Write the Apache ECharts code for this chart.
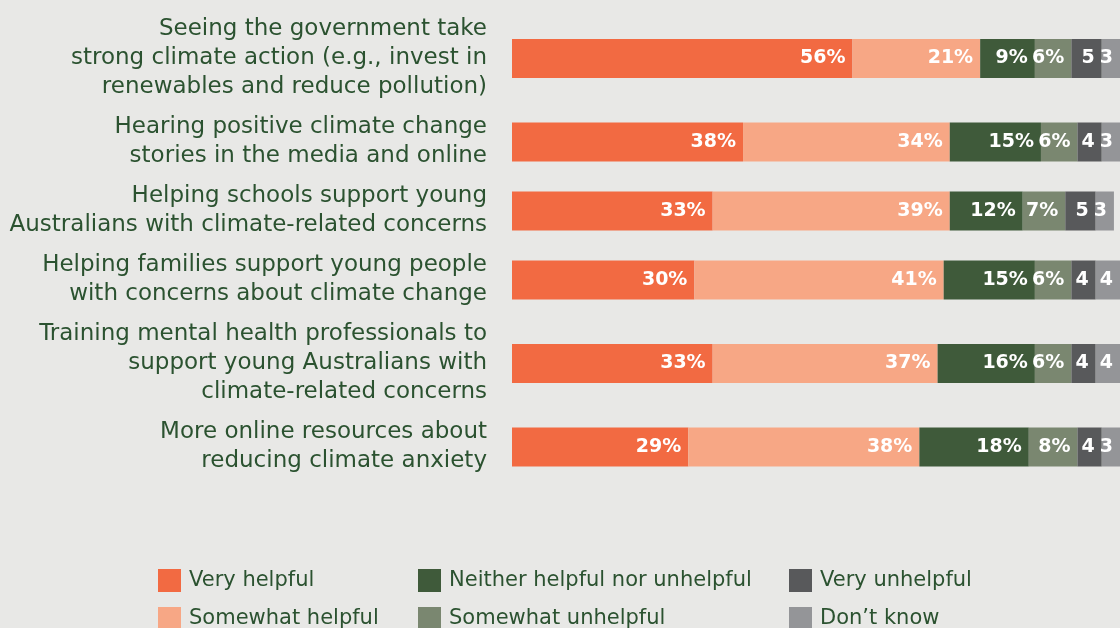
<!DOCTYPE html>
<html>
<head>
<meta charset="utf-8">
<script src="https://cdn.jsdelivr.net/npm/echarts@6/dist/echarts.min.js"></script>
<style>
  html, body { margin: 0; padding: 0; background: #e8e8e6; }
  #chart { width: 1120px; height: 628px; }
</style>
</head>
<body>
<div id="chart"></div>
<script>
// row labels (line breaks as in the report)
const categories = [
  'Seeing the government take\nstrong climate action (e.g., invest in\nrenewables and reduce pollution)',
  'Hearing positive climate change\nstories in the media and online',
  'Helping schools support young\nAustralians with climate-related concerns',
  'Helping families support young people\nwith concerns about climate change',
  'Training mental health professionals to\nsupport young Australians with\nclimate-related concerns',
  'More online resources about\nreducing climate anxiety'
];

const responses = ['Very helpful', 'Somewhat helpful', 'Neither helpful nor unhelpful',
  'Somewhat unhelpful', 'Very unhelpful', 'Don\u2019t know'];

const veryHelpful = [56, 38, 33, 30, 33, 29];
const somewhatHelpful = [21, 34, 39, 41, 37, 38];
const neither = [9, 15, 12, 15, 16, 18];
const somewhatUnhelpful = [6, 6, 7, 6, 6, 8];
const veryUnhelpful = [5, 4, 5, 4, 4, 4];
const dontKnow = [3, 3, 3, 4, 4, 3];

const colors = ['#f26a42', '#f7a785', '#3f5a3a', '#7a8770', '#58595b', '#949598'];
const values = [veryHelpful, somewhatHelpful, neither, somewhatUnhelpful, veryUnhelpful, dontKnow];

const textColor = '#2b5230';
const font = 'DejaVu Sans';
const lineH = 29;
const rowGap = 11;
const barH = 39;

// one grid per row so that taller labels get more room
const grids = [], xAxes = [], yAxes = [], series = [];
let rowTop = 15;
categories.forEach((cat, i) => {
  const blockH = cat.split('\n').length * lineH;
  const center = rowTop + blockH / 2;
  rowTop += blockH + rowGap;
  grids.push({ left: 512, width: 610, top: center - barH / 2, height: barH });
  xAxes.push({ type: 'value', gridIndex: i, min: 0, max: 100, show: false });
  yAxes.push({
    type: 'category', gridIndex: i, data: [cat],
    axisLine: { show: false }, axisTick: { show: false },
    axisLabel: {
      margin: 25, color: textColor, fontSize: 23, lineHeight: lineH,
      fontFamily: font, align: 'right'
    }
  });
  responses.forEach((name, r) => {
    series.push({
      type: 'bar', name: name, stack: 'row' + i,
      xAxisIndex: i, yAxisIndex: i,
      barWidth: barH,
      itemStyle: { color: colors[r] },
      data: [values[r][i]],
      label: {
        show: true, position: 'insideRight', distance: 7,
        color: '#fff', fontSize: 19, fontWeight: 'bold', fontFamily: font,
        formatter: p => (p.value > 5 ? p.value + '%' : String(p.value))
      }
    });
  });
});

const legendBase = {
  orient: 'vertical', top: 569, height: 90, padding: 0,
  itemWidth: 23, itemHeight: 23, itemGap: 15,
  icon: 'rect', selectedMode: false,
  textStyle: { color: textColor, fontSize: 21, fontFamily: font, padding: [0, 0, 0, 3] }
};

const option = {
  backgroundColor: '#e8e8e6',
  animation: false,
  grid: grids,
  xAxis: xAxes,
  yAxis: yAxes,
  legend: [
    Object.assign({}, legendBase, { left: 158, data: [responses[0], responses[1]] }),
    Object.assign({}, legendBase, { left: 418, data: [responses[2], responses[3]] }),
    Object.assign({}, legendBase, { left: 789, data: [responses[4], responses[5]] })
  ],
  series: series
};

const myChart = echarts.init(document.getElementById('chart'));
myChart.setOption(option);
</script>
</body>
</html>
